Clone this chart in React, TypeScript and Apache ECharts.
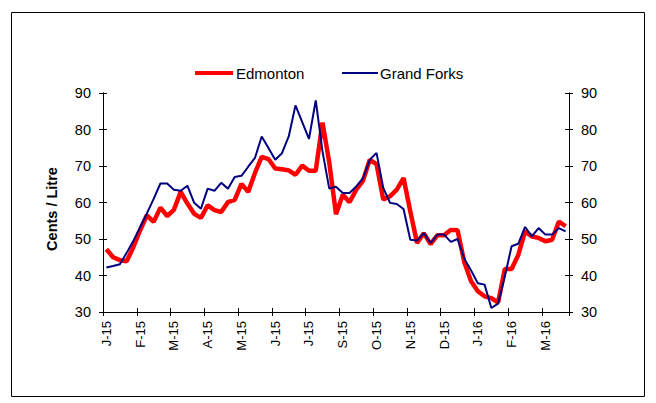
import React, { useEffect, useRef } from "react";
import * as echarts from "echarts";

const tickLabels = ["J-15", "F-15", "M-15", "A-15", "M-15", "J-15", "J-15", "S-15", "O-15", "N-15", "D-15", "J-16", "F-16", "M-16"];

const seriesNames = ["Edmonton", "Grand Forks"];
const seriesColors = ["#FF0000", "#000080"];

const edmonton = [
  47.2, 45.0, 44.2, 43.9, 47.8, 52.4, 56.5, 54.7, 58.6, 56.3,
  58.0, 62.9, 59.7, 56.9, 55.8, 59.2, 57.9, 57.4, 60.1, 60.7,
  65.1, 62.9, 68.1, 72.5, 71.9, 69.3, 69.1, 68.8, 67.6, 70.1,
  68.7, 68.7, 81.9, 71.0, 56.8, 62.1, 60.1, 63.5, 66.0, 71.7,
  70.5, 60.8, 61.7, 63.5, 66.7, 57.6, 48.9, 51.6, 48.6, 51.0,
  51.0, 52.5, 52.4, 43.6, 38.4, 35.7, 34.3, 33.8, 32.6, 41.8,
  41.8, 45.7, 52.1, 50.7, 50.3, 49.4, 49.8, 54.8, 53.5,
];

const grandForks = [
  42.2, 42.6, 43.1, 46.2, 49.5, 53.3, 57.0, 61.0, 65.2, 65.2,
  63.5, 63.2, 64.6, 59.9, 58.3, 63.8, 63.2, 65.4, 63.8, 67.0,
  67.3, 69.8, 72.2, 78.1, 74.9, 71.7, 73.5, 78.1, 86.6, 82.0,
  77.4, 88.0, 74.0, 63.8, 64.3, 62.6, 62.6, 64.4, 66.7, 71.7,
  73.6, 64.0, 59.9, 59.6, 58.2, 49.8, 49.6, 51.6, 48.9, 51.2,
  51.2, 49.2, 50.0, 44.6, 41.4, 37.9, 37.5, 31.1, 32.3, 39.8,
  48.0, 48.7, 53.3, 50.7, 53.0, 51.2, 51.2, 53.0, 52.1,
];

const categories = edmonton.map((_, i) => `W${i + 1}`);

const FONT = "'Liberation Sans', Arial, sans-serif";

export default function App() {
  const ref = useRef<HTMLDivElement>(null);
  useEffect(() => {
    if (!ref.current) return;
    const chart = echarts.init(ref.current, null, { renderer: "svg" });
    const yBase = {
      type: "value",
      min: 30,
      max: 90,
      interval: 10,
      splitLine: { show: false },
      axisLine: { show: true, lineStyle: { color: "#000", width: 1 } },
    };
    const xBase = {
      type: "category",
      data: categories,
      boundaryGap: true,
      axisLine: { show: true, lineStyle: { color: "#000", width: 1 } },
      splitLine: { show: false },
    };
    chart.setOption({
      animation: false,
      backgroundColor: "#fff",
      textStyle: { fontFamily: FONT },
      grid: { left: 103, right: 87, top: 93, bottom: 91, containLabel: false },
      xAxis: [
        {
          ...xBase,
          axisTick: { show: true, inside: false, length: 4, interval: 4, lineStyle: { color: "#000" } },
          axisLabel: {
            show: true,
            interval: 4,
            rotate: 90,
            margin: 9,
            fontSize: 13,
            color: "#000",
            fontFamily: FONT,
            formatter: (_v: string, i: number) => (i % 5 === 0 ? tickLabels[i / 5] : ""),
          },
        },
        {
          ...xBase,
          position: "bottom",
          axisTick: { show: true, inside: true, length: 4, interval: 4, lineStyle: { color: "#000" } },
          axisLabel: { show: false },
        },
      ],
      yAxis: [
        {
          ...yBase,
          position: "left",
          axisTick: { show: true, inside: false, length: 4, lineStyle: { color: "#000" } },
          axisLabel: { show: true, margin: 12, fontSize: 14.5, color: "#000", fontFamily: FONT },
        },
        {
          ...yBase,
          position: "right",
          axisTick: { show: true, inside: false, length: 4, lineStyle: { color: "#000" } },
          axisLabel: { show: true, margin: 12, fontSize: 14.5, color: "#000", fontFamily: FONT },
        },
        {
          ...yBase,
          position: "left",
          axisTick: { show: true, inside: true, length: 4, lineStyle: { color: "#000" } },
          axisLabel: { show: false },
        },
        {
          ...yBase,
          position: "right",
          axisTick: { show: true, inside: true, length: 4, lineStyle: { color: "#000" } },
          axisLabel: { show: false },
        },
      ],
      graphic: [
        {
          type: "rect",
          shape: { x: 11.5, y: 12.5, width: 633, height: 384 },
          style: { fill: "none", stroke: "#000", lineWidth: 1 },
          silent: true,
        },
        {
          type: "text",
          x: 52,
          y: 209,
          rotation: Math.PI / 2,
          style: {
            text: "Cents / Litre",
            fill: "#000",
            font: `bold 14.5px ${FONT}`,
            align: "center",
            verticalAlign: "middle",
          },
        },
        {
          type: "line",
          shape: { x1: 195, y1: 73, x2: 233, y2: 73 },
          style: { stroke: seriesColors[0], lineWidth: 4 },
        },
        {
          type: "text",
          x: 236,
          y: 73,
          style: {
            text: seriesNames[0],
            fill: "#000",
            font: `15px ${FONT}`,
            align: "left",
            verticalAlign: "middle",
          },
        },
        {
          type: "line",
          shape: { x1: 342, y1: 73, x2: 378, y2: 73 },
          style: { stroke: seriesColors[1], lineWidth: 2 },
        },
        {
          type: "text",
          x: 380,
          y: 73,
          style: {
            text: seriesNames[1],
            fill: "#000",
            font: `15px ${FONT}`,
            align: "left",
            verticalAlign: "middle",
          },
        },
      ],
      series: [
        {
          name: seriesNames[0],
          type: "line",
          data: edmonton,
          xAxisIndex: 0,
          yAxisIndex: 0,
          symbol: "none",
          showSymbol: false,
          lineStyle: { color: seriesColors[0], width: 4.5 },
          itemStyle: { color: seriesColors[0] },
        },
        {
          name: seriesNames[1],
          type: "line",
          data: grandForks,
          xAxisIndex: 0,
          yAxisIndex: 0,
          symbol: "none",
          showSymbol: false,
          lineStyle: { color: seriesColors[1], width: 2 },
          itemStyle: { color: seriesColors[1] },
        },
      ],
    });
    return () => chart.dispose();
  }, []);
  return (
    <div
      ref={ref}
      style={{ position: "absolute", left: 0, top: 0, width: 656, height: 403, background: "#fff" }}
    />
  );
}
